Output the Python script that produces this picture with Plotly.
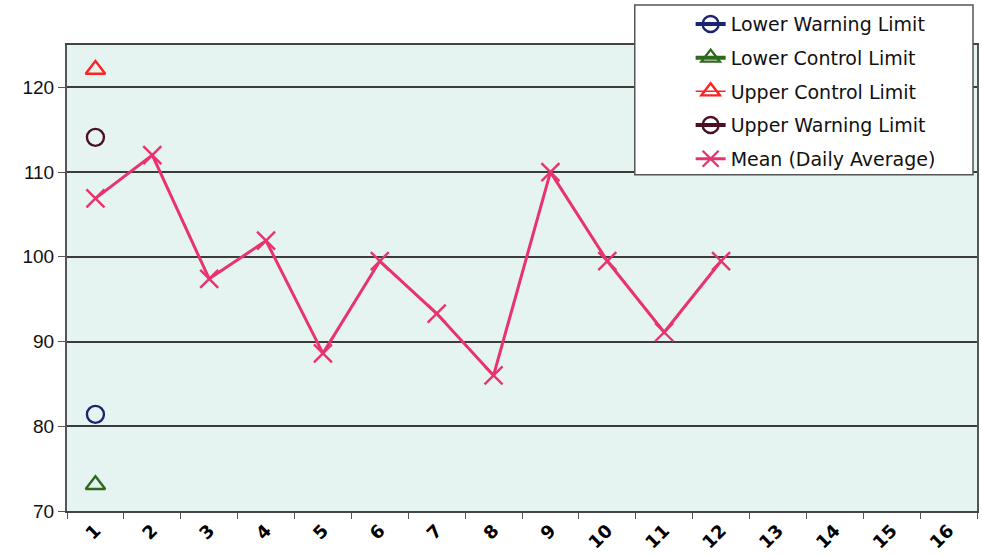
import plotly.graph_objects as go

# Sample days on the x axis
days = [str(d) for d in range(1, 17)]

# Daily average of the measured quantity (days 1-12)
mean_daily = [106.9, 112.0, 97.4, 101.9, 88.6, 99.5, 93.3, 86.0, 110.0, 99.5, 91.1, 99.5]

# Control / warning limits (plotted at the first day only)
lower_warning = [81.4]
lower_control = [73.1]
upper_control = [122.1]
upper_warning = [114.1]

y_ticks = [70, 80, 90, 100, 110, 120]

fig = go.Figure()

fig.add_trace(go.Scatter(
    x=days[:1], y=lower_warning, name="Lower Warning Limit", legendgroup="lwl",
    mode="lines+markers",
    line=dict(color="#1b2470", width=4),
    marker=dict(symbol="circle-open", size=17, color="#1b2470", line=dict(width=2.4)),
))
fig.add_trace(go.Scatter(
    x=days[:1], y=lower_control, name="Lower Control Limit", legendgroup="lcl",
    mode="lines+markers",
    line=dict(color="#2f6a1c", width=4),
    marker=dict(symbol="triangle-up-open", size=17, color="#2f6a1c", line=dict(width=2.4)),
))
fig.add_trace(go.Scatter(
    x=days[:1], y=upper_control, name="Upper Control Limit", legendgroup="ucl",
    mode="lines+markers",
    line=dict(color="#ff2222", width=1.5),
    marker=dict(symbol="triangle-up-open", size=17, color="#ff2222", line=dict(width=2.4)),
))
fig.add_trace(go.Scatter(
    x=days[:1], y=upper_warning, name="Upper Warning Limit", legendgroup="uwl",
    mode="lines+markers",
    line=dict(color="#4b1026", width=4),
    marker=dict(symbol="circle-open", size=17, color="#4b1026", line=dict(width=2.4)),
))
fig.add_trace(go.Scatter(
    x=days[:len(mean_daily)], y=mean_daily, name="Mean (Daily Average)", legendgroup="mean",
    mode="lines+markers",
    line=dict(color="#e8336e", width=3),
    marker=dict(symbol="x-thin-open", size=18, color="#e8336e", line=dict(width=2.4, color="#e8336e")),
))

# White framed box behind the legend entries
fig.add_shape(
    type="rect", xref="paper", yref="paper",
    x0=(636 - 67) / 912, x1=(975 - 67) / 912,
    y0=(512 - 175) / 467, y1=(512 - 5) / 467,
    fillcolor="white", line=dict(color="#555", width=1.5), layer="above",
)

fig.update_layout(
    width=982, height=556,
    margin=dict(l=67, r=3, t=45, b=44),
    paper_bgcolor="white",
    plot_bgcolor="#e5f4f0",
    font=dict(family="Liberation Sans, Arial, sans-serif", color="#111"),
    showlegend=True,
    legend=dict(
        x=(692 - 67) / 912, y=(512 - 5) / 467, xanchor="left", yanchor="top",
        bgcolor="rgba(0,0,0,0)", borderwidth=0,
        font=dict(family="DejaVu Sans, Verdana, sans-serif", size=19, color="#111"),
        traceorder="grouped", tracegroupgap=6,
    ),
)

fig.update_xaxes(
    type="category", categoryorder="array", categoryarray=days,
    range=[-0.5, 15.5],
    tickson="boundaries", ticks="outside", ticklen=6, tickcolor="#555",
    tickangle=-45,
    tickfont=dict(size=18, family="DejaVu Sans, Verdana, sans-serif", color="#000", weight="bold"),
    showline=True, linecolor="#444", linewidth=2, mirror=True,
    showgrid=False, zeroline=False,
)
fig.update_yaxes(
    range=[70, 125], tickvals=y_ticks,
    ticks="outside", ticklen=7, tickcolor="#555",
    tickfont=dict(size=19, color="#111"),
    showline=True, linecolor="#555", linewidth=2, mirror=True,
    showgrid=True, gridcolor="#3c3c3c", gridwidth=1.5,
    zeroline=False,
)

fig.write_html("out.html")
